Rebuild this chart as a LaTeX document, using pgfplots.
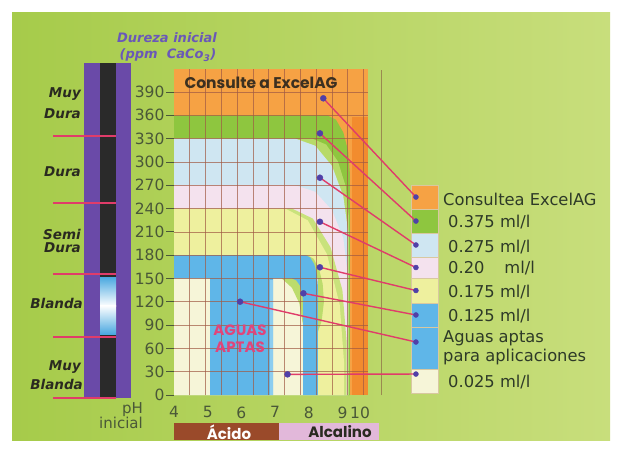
\documentclass[border=0pt]{standalone}
\usepackage{pgfplots}
\pgfplotsset{compat=1.18}
\usepackage{fontspec}
\setmainfont{DejaVu Sans}
\newfontfamily\pop{Poppins}
\definecolor{bgL}{HTML}{A6CB4A}
\definecolor{bgR}{HTML}{C8DE7C}
\definecolor{orangeT}{HTML}{F6A244}
\definecolor{orangeC}{HTML}{F28C2E}
\definecolor{greenB}{HTML}{8EC63F}
\definecolor{ringG}{HTML}{B7DA68}
\definecolor{lblue}{HTML}{CFE6F2}
\definecolor{pinkB}{HTML}{F4E2EE}
\definecolor{ringY}{HTML}{C9E27C}
\definecolor{yellowB}{HTML}{EEF09E}
\definecolor{ringU}{HTML}{BCDC6C}
\definecolor{creamB}{HTML}{F6F5D8}
\definecolor{blueU}{HTML}{5FB6E8}
\definecolor{blueL}{HTML}{8CCDF0}
\definecolor{gridc}{HTML}{A05A44}
\definecolor{tickc}{HTML}{4A5838}
\definecolor{pinkline}{HTML}{E03C6A}
\definecolor{dotc}{HTML}{5040A8}
\definecolor{barpurple}{HTML}{6A4AA8}
\definecolor{barblack}{HTML}{2A2A2A}
\definecolor{blandaB}{HTML}{4AA8E0}
\definecolor{labc}{HTML}{2A2A20}
\definecolor{purplet}{HTML}{6A58B8}
\definecolor{legc}{HTML}{2E3A28}
\definecolor{acido}{HTML}{9A4A2A}
\definecolor{alcal}{HTML}{E2B8DA}
\definecolor{aguas}{HTML}{E0457A}
\definecolor{titc}{HTML}{3C3020}
\definecolor{vline}{HTML}{9A8A50}
\definecolor{swb}{HTML}{D8C8A0}
\begin{document}
\begin{tikzpicture}
\useasboundingbox (0,0) rectangle (618pt,-448pt);
\begin{scope}[x=1pt,y=-1pt]
 \fill[white] (0,0) rectangle (618,448);
 \shade[left color=bgL, right color=bgR] (12,12) rectangle (610,440);
 % left hardness bar
 \fill[barpurple] (84,63) rectangle (131,398);
 \fill[barblack] (100,63) rectangle (116,397);
 \shade[top color=blandaB, bottom color=white] (100,277) rectangle (116,306);
 \shade[top color=white, bottom color=blandaB] (100,305.5) rectangle (116,334);
 \foreach \yy in {136,203,274,337,398} \draw[pinkline, line width=1.8pt] (53,\yy) -- (116,\yy);
 \begin{scope}[every node/.style={anchor=east, font=\fontsize{13.5}{13.5}\selectfont\bfseries\itshape, text=labc, inner sep=0pt}]
  \node at (81,94) {Muy};
  \node at (81,114) {Dura};
  \node at (81,172) {Dura};
  \node at (81,234) {Semi};
  \node at (81,248) {Dura};
  \node at (83,303) {Blanda};
  \node at (81,367) {Muy};
  \node at (83,384) {Blanda};
 \end{scope}
 \node[font=\fontsize{13}{13}\selectfont\bfseries\itshape, text=purplet, inner sep=0pt] at (167,38) {Dureza inicial};
 \node[font=\fontsize{13}{13}\selectfont\bfseries\itshape, text=purplet, inner sep=0pt] at (168,55) {(ppm\ \ CaCo\textsubscript{3})};
 \node[anchor=east, font=\fontsize{15}{15}\selectfont, text=tickc, inner sep=0pt] at (143,410) {pH};
 \node[anchor=east, font=\fontsize{15}{15}\selectfont, text=tickc, inner sep=0pt] at (143,423) {inicial};
 % pH bands
 \fill[acido] (174,423) rectangle (279,440);
 \fill[alcal] (279,423) rectangle (379,440);
\end{scope}

\begin{axis}[at={(174pt,-395pt)}, anchor=south west, scale only axis,
  width=194.1pt, height=326.3pt,
  xmin=4, xmax=9.76, ymin=0, ymax=420, clip=false,
  axis line style={draw=none},
  xtick={4,5,6,7,8,9,9.52}, xticklabels={4,5,6,7,8,9,10},
  ytick={0,30,...,390},
  xtick style={draw=none}, ytick pos=left, tick align=outside,
  major tick length=8pt,
  ytick style={draw=tickc, line width=0.8pt},
  ticklabel style={font=\fontsize{15.5}{15.5}\selectfont, text=tickc},
  yticklabel style={xshift=2pt},
  /pgf/number format/assume math mode=true]
 % regions
 \addplot[fill=orangeT, draw=none] coordinates {(4,0) (4,420) (9.76,420) (9.76,0)} -- cycle;
 \addplot[fill=orangeC, draw=none] coordinates {(9.28,0) (9.28,358) (9.76,358) (9.76,0)} -- cycle;
 \addplot[fill=greenB, draw=none] coordinates {(4,0) (4,360) (8.55,360) (8.807,354.3) (9.024,338.0) (9.169,313.7) (9.22,285) (9.22,0)} -- cycle;
 \addplot[fill=ringG, draw=none] coordinates {(4,0) (4,330) (8.1,330) (8.514,322.4) (8.864,300.7) (9.098,268.3) (9.19,230) (9.19,0)} -- cycle;
 \addplot[fill=lblue, draw=none] coordinates {(4,0) (4,330) (7.6,330) (8.190,320.9) (8.689,294.8) (9.023,256.0) (9.17,210) (9.17,0)} -- cycle;
 \addplot[fill=pinkB, draw=none] coordinates {(4,0) (4,270) (7.6,270) (8.190,261.6) (8.689,237.8) (9.023,202.1) (9.14,160) (9.14,0)} -- cycle;
 \addplot[fill=ringY, draw=none] coordinates {(4,0) (4,240) (7.5,240) (8.120,227.1) (8.645,190.2) (8.997,135.1) (9.12,70) (9.12,0)} -- cycle;
 \addplot[fill=yellowB, draw=none] coordinates {(4,0) (4,240) (7.3,240) (7.970,224.8) (8.537,181.4) (8.917,116.6) (9.05,40) (9.05,0)} -- cycle;
 \addplot[fill=ringU, draw=none] coordinates {(4,0) (4,180) (7.95,180) (8.142,175.4) (8.304,162.4) (8.412,143.0) (8.45,120) (8.38,95) (8.26,80) (8.26,0)} -- cycle;
 \addplot[fill=creamB, draw=none] coordinates {(4,0) (4,150) (8.27,150) (8.27,0)} -- cycle;
 \addplot[fill=ringU, draw=none] coordinates {(7.2,150) (7.83,150) (7.83,90) (7.72,118) (7.5,138)} -- cycle;
 \addplot[fill=blueU, draw=none] coordinates {(4,150) (4,180) (7.9,180) (8.042,177.0) (8.162,168.3) (8.242,155.3) (8.27,140) (8.27,0) (7.83,0) (7.83,120) (7.805,131.5) (7.733,141.2) (7.626,147.7) (7.5,150) (6.94,150) (6.94,0) (5.07,0) (5.07,150)} -- cycle;
 \addplot[fill=blueL, draw=none] coordinates {(6.85,0) (6.94,0) (6.94,148) (6.85,148)} -- cycle;
 % grid
 \pgfplotsinvokeforeach{4.469,4.938,5.407,5.876,6.345,6.814,7.283,7.752,8.221,8.690,9.159,9.628}{
   \draw[gridc, opacity=0.7, line width=0.7pt] (axis cs:#1,0) -- (axis cs:#1,420);
 }
 \pgfplotsinvokeforeach{30,60,90,120,150,180,210,240,270,300,330,360,390}{
   \draw[gridc, opacity=0.7, line width=0.7pt] (axis cs:4,#1) -- (axis cs:9.76,#1);
 }
 \addplot[draw=vline, line width=0.6pt] coordinates {(10.14,0) (10.14,418)};
 % legend swatches
 \addplot[fill=orangeT, draw=swb, line width=0.5pt] coordinates {(11.03,239.4) (11.03,270.3) (11.83,270.3) (11.83,239.4)} -- cycle;
 \addplot[fill=greenB, draw=swb, line width=0.5pt] coordinates {(11.03,208.5) (11.03,239.4) (11.83,239.4) (11.83,208.5)} -- cycle;
 \addplot[fill=lblue, draw=swb, line width=0.5pt] coordinates {(11.03,177.6) (11.03,208.5) (11.83,208.5) (11.83,177.6)} -- cycle;
 \addplot[fill=pinkB, draw=swb, line width=0.5pt] coordinates {(11.03,150.6) (11.03,177.6) (11.83,177.6) (11.83,150.6)} -- cycle;
 \addplot[fill=yellowB, draw=swb, line width=0.5pt] coordinates {(11.03,118.4) (11.03,150.6) (11.83,150.6) (11.83,118.4)} -- cycle;
 \addplot[fill=blueU, draw=swb, line width=0.5pt] coordinates {(11.03,87.5) (11.03,118.4) (11.83,118.4) (11.83,87.5)} -- cycle;
 \addplot[fill=blueU, draw=swb, line width=0.5pt] coordinates {(11.03,33.5) (11.03,87.5) (11.83,87.5) (11.83,33.5)} -- cycle;
 \addplot[fill=creamB, draw=swb, line width=0.5pt] coordinates {(11.03,2.6) (11.03,33.5) (11.83,33.5) (11.83,2.6)} -- cycle;
 % callout lines
 \addplot[pinkline, line width=1.4pt] coordinates {(8.43,381.9) (11.18,254.8)};
 \addplot[pinkline, line width=1.4pt] coordinates {(8.33,336.8) (11.18,223.9)};
 \addplot[pinkline, line width=1.4pt] coordinates {(8.33,279.7) (11.18,193.1)};
 \addplot[pinkline, line width=1.4pt] coordinates {(8.33,223.0) (11.18,164.1)};
 \addplot[pinkline, line width=1.4pt] coordinates {(8.33,164.4) (11.18,134.5)};
 \addplot[pinkline, line width=1.4pt] coordinates {(7.84,130.9) (11.18,103.0)};
 \addplot[pinkline, line width=1.4pt] coordinates {(5.96,120.1) (11.18,68.2)};
 \addplot[pinkline, line width=1.4pt] coordinates {(7.37,26.6) (11.18,27.0)};
 % dots
 \addplot[only marks, mark=*, mark size=3pt, color=dotc] coordinates {(8.43,381.9) (8.33,336.8) (8.33,279.7) (8.33,223.0) (8.33,164.4) (7.84,130.9) (5.96,120.1) (7.37,26.6)};
 \addplot[only marks, mark=*, mark size=2.5pt, color=dotc] coordinates {(11.18,254.8) (11.18,223.9) (11.18,193.1) (11.18,164.1) (11.18,134.5) (11.18,103.0) (11.18,68.2) (11.18,27.0)};
\end{axis}

\begin{scope}[x=1pt,y=-1pt]
 \node[font=\pop\bfseries\fontsize{15.5}{15.5}\selectfont, text=titc, inner sep=0pt] at (261,83) {Consulte a ExcelAG};
 \node[font=\pop\bfseries\fontsize{15}{15}\selectfont, text=aguas, inner sep=0pt] at (240,330) {AGUAS};
 \node[font=\pop\bfseries\fontsize{15}{15}\selectfont, text=aguas, inner sep=0pt] at (240,347) {APTAS};
 \node[font=\pop\bfseries\fontsize{15}{15}\selectfont, text=white, inner sep=0pt] at (229,432) {Ácido};
 \node[font=\pop\bfseries\fontsize{15}{15}\selectfont, text=labc, inner sep=0pt] at (340,432) {Alcalino};
 \begin{scope}[every node/.style={anchor=west, font=\fontsize{16.3}{16.3}\selectfont, text=legc, inner sep=0pt}]
  \node at (443,199) {Consultea ExcelAG};
  \node at (448,222) {0.375 ml/l};
  \node at (448,247) {0.275 ml/l};
  \node at (448,268) {0.20\hspace{20pt}ml/l};
  \node at (448,292) {0.175 ml/l};
  \node at (448,316) {0.125 ml/l};
  \node at (443,338) {Aguas aptas};
  \node at (443,357) {para aplicaciones};
  \node at (448,382) {0.025 ml/l};
 \end{scope}
\end{scope}
\end{tikzpicture}
\end{document}
